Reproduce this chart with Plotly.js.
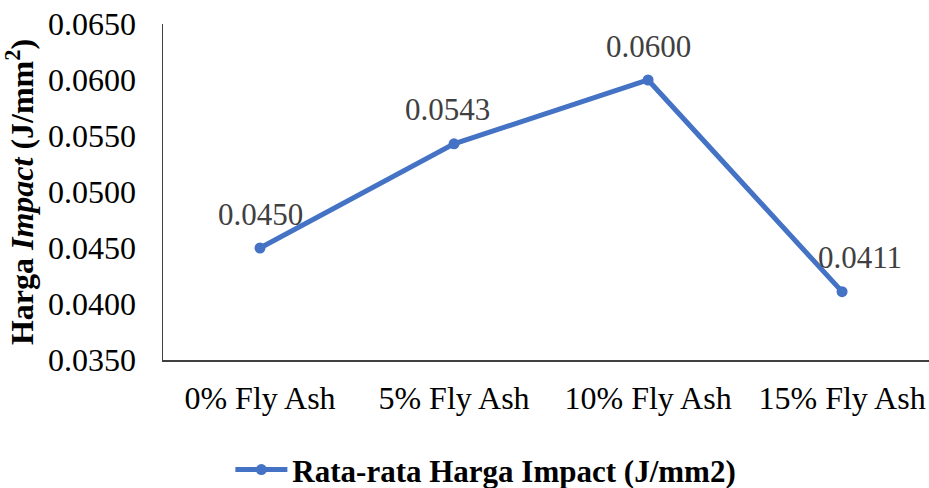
<!DOCTYPE html>
<html>
<head>
<meta charset="utf-8">
<script src="https://cdn.plot.ly/plotly-3.0.1.min.js"></script>
<style>html,body{margin:0;padding:0;background:#fff;overflow:hidden}</style>
</head>
<body>
<div id="chart" style="width:929px;height:488px"></div>
<script>
const categories = ["0% Fly Ash", "5% Fly Ash", "10% Fly Ash", "15% Fly Ash"];
const impactValues = [0.0450, 0.0543, 0.0600, 0.0411];
const yTickVals = [0.035, 0.040, 0.045, 0.050, 0.055, 0.060, 0.065];
const yTickText = ["0.0350", "0.0400", "0.0450", "0.0500", "0.0550", "0.0600", "0.0650"];
const seriesName = "Rata-rata Harga Impact (J/mm2)";
const labelShift = [0, -7, 0, 18];

const font = "Liberation Serif";

const trace = {
  x: categories.map((c, i) => i),
  y: impactValues,
  type: "scatter",
  mode: "lines+markers",
  name: seriesName,
  line: {color: "#4472C4", width: 5},
  marker: {color: "#4472C4", size: 11},
  cliponaxis: false
};

const annotations = impactValues.map((v, i) => ({
  x: i, y: v, xref: "x", yref: "y",
  text: v.toFixed(4),
  showarrow: false,
  xanchor: "center", yanchor: "middle",
  xshift: labelShift[i], yshift: 34,
  font: {family: font, size: 31, color: "#404040"}
}));

const layout = {
  width: 929, height: 488,
  margin: {l: 163, r: 0, t: 24, b: 128},
  paper_bgcolor: "#fff", plot_bgcolor: "#fff",
  font: {family: font, color: "#000"},
  showlegend: true,
  legend: {
    orientation: "h",
    x: 0.523, xref: "container", xanchor: "center",
    y: 0.037, yref: "container", yanchor: "middle",
    font: {family: font, size: 31, color: "#000", weight: "bold"},
    itemwidth: 52
  },
  xaxis: {
    range: [-0.5, 3.448],
    tickvals: categories.map((c, i) => i),
    ticktext: categories,
    showgrid: false, zeroline: false,
    showline: true, linecolor: "#404040", linewidth: 1.5,
    ticks: "",
    ticklabelstandoff: 9,
    tickfont: {family: font, size: 32, color: "#000"}
  },
  yaxis: {
    range: [0.035, 0.065],
    tickvals: yTickVals,
    ticktext: yTickText,
    showgrid: false, zeroline: false,
    showline: true, linecolor: "#404040", linewidth: 1.5,
    ticks: "",
    ticklabelstandoff: 19,
    tickfont: {family: font, size: 32, color: "#000"},
    title: {
      text: "<b>Harga <i>Impact</i> (J/mm<sup>2</sup>)</b>",
      font: {family: font, size: 32, color: "#000"},
      standoff: 12
    }
  },
  annotations: annotations
};

Plotly.newPlot("chart", [trace], layout, {displayModeBar: false, staticPlot: true});
</script>
</body>
</html>
